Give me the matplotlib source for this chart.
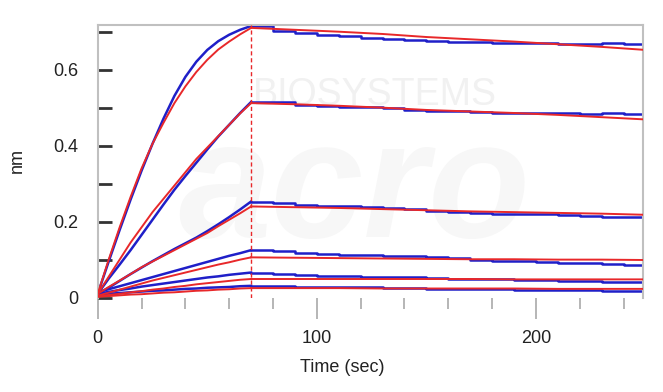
import matplotlib
matplotlib.use("Agg")
import matplotlib.pyplot as plt
from matplotlib.ticker import MultipleLocator, FixedLocator

plt.rcParams['font.family'] = ['Liberation Sans', 'DejaVu Sans']

# ---- data ----
t_assoc = [0, 5, 10, 15, 20, 25, 30, 35, 40, 45, 50, 55, 60, 65, 70]
t_diss_fit = [70, 90, 110, 130, 150, 170, 190, 210, 230, 250]
t_diss_obs = [70, 80, 90, 100, 110, 120, 130, 140, 150, 160, 170, 180, 190, 200, 210, 220, 230, 240, 250]

fit_assoc = [
    [0.01, 0.10, 0.185, 0.265, 0.34, 0.405, 0.46, 0.512, 0.556, 0.594, 0.626, 0.653, 0.674, 0.693, 0.71],
    [0.01, 0.055, 0.10, 0.145, 0.185, 0.225, 0.26, 0.295, 0.33, 0.365, 0.395, 0.425, 0.455, 0.485, 0.512],
    [0.01, 0.028, 0.045, 0.062, 0.08, 0.095, 0.11, 0.125, 0.14, 0.155, 0.17, 0.188, 0.205, 0.222, 0.24],
    [0.005, 0.013, 0.021, 0.029, 0.037, 0.045, 0.052, 0.059, 0.066, 0.073, 0.08, 0.087, 0.093, 0.10, 0.106],
    [0.003, 0.007, 0.01, 0.014, 0.017, 0.021, 0.024, 0.028, 0.031, 0.035, 0.038, 0.041, 0.044, 0.047, 0.049],
    [0.002, 0.004, 0.006, 0.008, 0.009, 0.011, 0.013, 0.014, 0.016, 0.018, 0.019, 0.021, 0.022, 0.024, 0.025],
]
obs_assoc = [
    [0.01, 0.095, 0.178, 0.258, 0.334, 0.405, 0.471, 0.531, 0.581, 0.621, 0.652, 0.675, 0.692, 0.705, 0.715],
    [0.01, 0.05, 0.087, 0.125, 0.165, 0.205, 0.245, 0.284, 0.32, 0.355, 0.39, 0.424, 0.455, 0.486, 0.515],
    [0.01, 0.026, 0.044, 0.062, 0.079, 0.096, 0.112, 0.128, 0.143, 0.158, 0.175, 0.193, 0.212, 0.232, 0.253],
    [0.015, 0.022, 0.03, 0.038, 0.046, 0.054, 0.062, 0.07, 0.078, 0.086, 0.094, 0.102, 0.11, 0.117, 0.125],
    [0.01, 0.015, 0.02, 0.024, 0.029, 0.033, 0.037, 0.041, 0.045, 0.049, 0.053, 0.056, 0.06, 0.063, 0.066],
    [0.008, 0.01, 0.012, 0.014, 0.016, 0.018, 0.019, 0.021, 0.023, 0.024, 0.026, 0.027, 0.028, 0.03, 0.031],
]
fit_diss = [
    [0.71, 0.705, 0.70, 0.694, 0.686, 0.68, 0.674, 0.667, 0.66, 0.652],
    [0.512, 0.509, 0.505, 0.50, 0.494, 0.49, 0.486, 0.481, 0.475, 0.469],
    [0.24, 0.238, 0.236, 0.233, 0.23, 0.227, 0.225, 0.223, 0.221, 0.218],
    [0.106, 0.105, 0.104, 0.103, 0.102, 0.101, 0.101, 0.10, 0.10, 0.099],
    [0.049, 0.049, 0.049, 0.049, 0.049, 0.049, 0.048, 0.048, 0.048, 0.048],
    [0.025, 0.025, 0.025, 0.024, 0.024, 0.024, 0.024, 0.023, 0.023, 0.023],
]
obs_diss = [
    [0.715, 0.702, 0.696, 0.691, 0.688, 0.684, 0.681, 0.678, 0.676, 0.674, 0.674, 0.671, 0.670, 0.669, 0.668, 0.668, 0.669, 0.668, 0.668],
    [0.516, 0.514, 0.508, 0.505, 0.503, 0.501, 0.498, 0.494, 0.492, 0.491, 0.489, 0.487, 0.487, 0.486, 0.485, 0.484, 0.485, 0.484, 0.483],
    [0.253, 0.248, 0.244, 0.242, 0.240, 0.238, 0.236, 0.234, 0.229, 0.225, 0.222, 0.221, 0.220, 0.219, 0.218, 0.214, 0.212, 0.211, 0.209],
    [0.125, 0.122, 0.118, 0.116, 0.113, 0.112, 0.11, 0.109, 0.106, 0.103, 0.099, 0.097, 0.096, 0.094, 0.092, 0.090, 0.089, 0.087, 0.085],
    [0.066, 0.063, 0.06, 0.058, 0.056, 0.055, 0.054, 0.053, 0.051, 0.05, 0.049, 0.048, 0.047, 0.046, 0.045, 0.044, 0.042, 0.041, 0.040],
    [0.031, 0.030, 0.029, 0.028, 0.027, 0.027, 0.026, 0.025, 0.024, 0.023, 0.022, 0.022, 0.021, 0.02, 0.02, 0.019, 0.018, 0.017, 0.016],
]
assoc_end = 70
x_ticks = [0, 100, 200]
y_ticks = [0, 0.1, 0.2, 0.3, 0.4, 0.5, 0.6, 0.7]
y_labels = ['0', '', '0.2', '', '0.4', '', '0.6', '']

BLUE = '#1f1fc8'
RED = '#e8282a'

fig = plt.figure(figsize=(6.63, 3.92), dpi=100)
ax = fig.add_axes([0.1474, 0.2398, 0.8229, 0.6964])

# faint watermark
ax.text(0.508, 0.744, 'BIOSYSTEMS', transform=ax.transAxes, ha='center', va='center',
        fontsize=27, color='#f1f1f1', zorder=0)
ax.text(0.47, 0.38, 'acro', transform=ax.transAxes, ha='center', va='center',
        fontsize=120, color='#f7f7f7', fontweight='bold', style='italic', zorder=0)

for oa, od in zip(obs_assoc, obs_diss):
    ax.plot(t_assoc, oa, color=BLUE, lw=1.8, zorder=2)
    ax.plot(t_diss_obs, od, color=BLUE, lw=1.8, drawstyle='steps-post', zorder=2)
for fa, fd in zip(fit_assoc, fit_diss):
    ax.plot(t_assoc, fa, color=RED, lw=1.4, zorder=3)
    ax.plot(t_diss_fit, fd, color=RED, lw=1.4, zorder=3)

ax.axvline(assoc_end, color=RED, lw=1.0, ls=(0, (3, 2)), zorder=4)

ax.set_xlim(0, 249)
ax.set_ylim(-0.001, 0.7176)

ax.xaxis.set_major_locator(FixedLocator(x_ticks))
ax.xaxis.set_minor_locator(MultipleLocator(20))
ax.set_yticks(y_ticks)
ax.set_yticklabels(y_labels)

ax.tick_params(axis='x', which='major', direction='out', length=15, width=1.3,
               color='#b0b0b0', labelsize=13, labelcolor='#222222', pad=8)
ax.tick_params(axis='x', which='minor', direction='out', length=8, width=1.3, color='#b0b0b0')
ax.tick_params(axis='y', which='major', direction='in', length=10, width=2.0,
               color='#333333', labelsize=13, labelcolor='#222222', pad=14)

for s in ['left', 'top', 'right']:
    ax.spines[s].set_color('#c0c0c0')
    ax.spines[s].set_linewidth(1.5)
ax.spines['bottom'].set_visible(False)

ax.set_xlabel('Time (sec)', fontsize=13, color='#222222')
ax.xaxis.set_label_coords(0.448, -0.222)
ax.set_ylabel('nm', fontsize=13, color='#222222')
ax.yaxis.set_label_coords(-0.131, 0.505)

fig.savefig('out.png', dpi=100)
